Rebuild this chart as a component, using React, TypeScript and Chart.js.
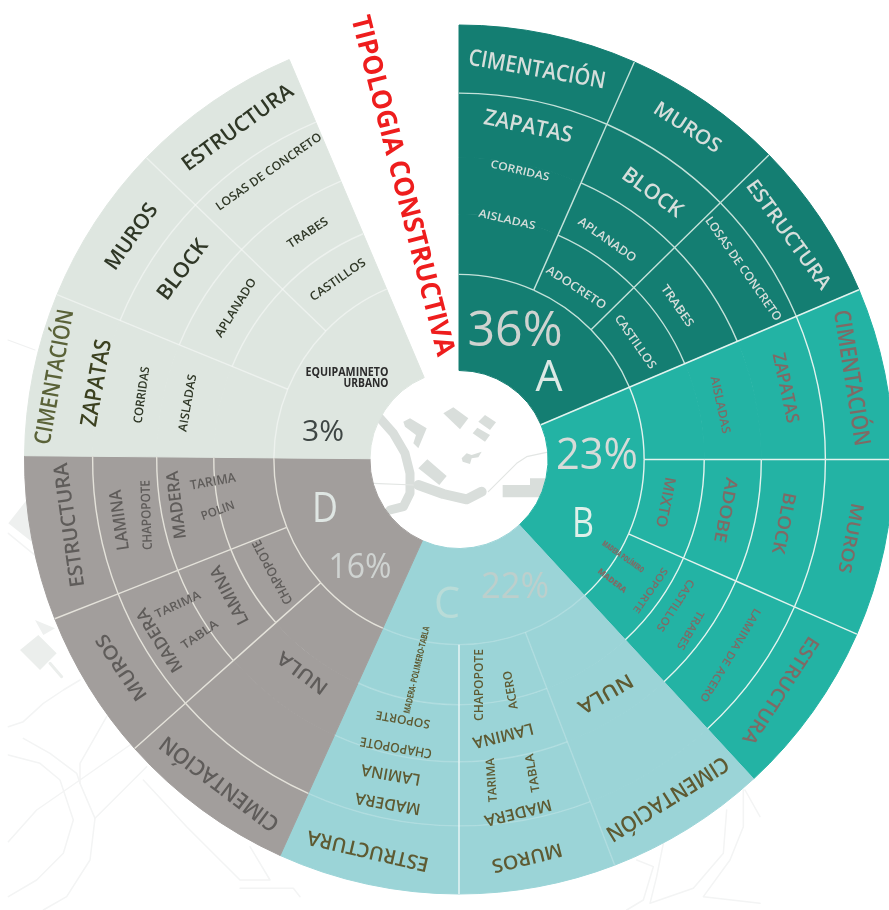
import React, { useEffect, useRef } from "react";
import { Chart, registerables } from "chart.js";

Chart.register(...registerables);

// ---- data: angular share of every wedge (the picture's own drawing, degrees of the wheel)
const wedgesA = [23.8, 21.7, 21.5];
const wedgesB = [23, 23.7, 23.6];
const wedgesC = [21.7, 21, 24.3];
const wedgesD = [24, 20.2, 22];
const wedgesE = [21.8, 21.7, 23];
const gapShare = 23;
const coreValues = [67, 70.3, 67, 66.2, 66.5, gapShare];
const wedgeValues = [...wedgesA, ...wedgesB, ...wedgesC, ...wedgesD, ...wedgesE, gapShare];

const coreLabels = ["A", "B", "C", "D", "E", ""];
const wedgeLabels = [
  "A Cimentación", "A Muros", "A Estructura",
  "B Cimentación", "B Muros", "B Estructura",
  "C Cimentación", "C Muros", "C Estructura",
  "D Cimentación", "D Muros", "D Estructura",
  "E Cimentación", "E Muros", "E Estructura", "",
];
const ringWeights = [68, 64, 57, 60, 96];

const sectorColors = ["#147e72", "#23b3a4", "#9bd4d7", "#a29e9c", "#dee6e0"];
const lineColors = ["#c4e2da", "#e2f3ee", "rgba(255,255,255,0.2)", "#e4e2da", "rgba(255,255,255,0.45)"];

const CA = "#d6dedb", CB = "#7f6a65", CC = "#5e5a32", CD = "#5f5c5a", CE = "#2f3726";

type L = [string, number, number, number, number, number, string, number?];
// text, dx, dy from the wheel's centre, rotation, length, font size, colour, weight
const labelsA: L[] = [
  ["CIMENTACIÓN", 78, -388, 10, 139, 23, CA], ["MUROS", 228, -330, 33, 76, 20, CA],
  ["ESTRUCTURA", 329, -223, 54, 130, 20, CA], ["ZAPATAS", 69, -331, 12, 90, 22, CA],
  ["BLOCK", 193, -265, 36, 70, 21, CA], ["LOSAS DE CONCRETO", 284, -189, 55, 124, 12, CA],
  ["CORRIDAS", 61, -287, 13, 60, 11, CA], ["AISLADAS", 48, -238, 13, 58, 11, CA],
  ["APLANADO", 148, -218, 35, 68, 12, CA], ["ADOCRETO", 117, -170, 33, 69, 12, CA],
  ["TRABES", 218, -152, 55, 48, 12, CA], ["CASTILLOS", 176, -116, 55, 63, 12, CA],
  ["36%", 56, -126, 0, 95, 50, "#cfd3d0", 400], ["A", 90, -80, 0, 27, 44, "#dce9e5", 400],
];
const labelsB: L[] = [
  ["CIMENTACIÓN", 392, -80, 81, 137, 23, CB], ["ZAPATAS", 326, -70, 78, 71, 18, CB],
  ["AISLADAS", 261, -53, 78, 58, 12, CB], ["23%", 138, -1, 0, 82, 43, "#d7dbd8", 400],
  ["B", 124, 67, 0, 22, 42, "#dff0ea", 400], ["MIXTO", 206, 44, 101, 51, 15, CB],
  ["ADOBE", 266, 52, 101, 66, 17, CB], ["BLOCK", 324, 65, 101, 62, 18, CB],
  ["MUROS", 391, 80, 101, 71, 18, CB], ["ESTRUCTURA", 321, 232, 123, 124, 19, CB],
  ["LAMINA DE ACERO", 271, 197, 121, 107, 11, CB], ["TRABES", 231, 172, 120, 43, 11, CB],
  ["CASTILLOS", 216, 147, 123, 60, 11, CB], ["SOPORTE", 191, 132, 125, 53, 10, CB],
  ["MADERA POLÍMERO", 164, 99, 35, 49, 8, CB, 800], ["MADERA", 153, 123, 38, 34, 8, CB, 800],
];
const labelsC: L[] = [
  ["C", -12, 147, 0, 26, 44, "#b9dcd8", 400], ["22%", 56, 130, 0, 68, 36, "#bdcfcc", 400],
  ["NULA", 146, 235, 150, 60, 20, CC], ["CIMENTACIÓN", 208, 340, 148, 140, 22, CC],
  ["MUROS", 68, 399, 166, 72, 19, CC], ["MADERA", 59, 354, 166, 69, 16, CC],
  ["TARIMA", 33, 322, -94, 44, 12, CC], ["TABLA", 74, 315, -100, 39, 12, CC],
  ["LAMINA", 44, 277, 166, 62, 16, CC], ["CHAPOPOTE", 20, 227, -90, 72, 13, CC],
  ["ACERO", 52, 232, -100, 39, 12, CC], ["ESTRUCTURA", -91, 392, 193, 124, 20, CC],
  ["MADERA", -71, 345, 190, 66, 16, CC], ["LAMINA", -68, 316, 190, 60, 16, CC],
  ["CHAPOPOTE", -63, 289, 190, 73, 13, CC], ["SOPORTE", -56, 261, 190, 55, 12, CC],
  ["MADERA- POLIMERO-TABLA", -42, 212, -77, 89, 9, CC, 700],
];
const labelsD: L[] = [
  ["D", -134, 52, 0, 26, 42, "#dfe6e3", 400], ["16%", -99, 110, 0, 63, 34, "#cfd3d1", 400],
  ["NULA", -156, 214, 217, 58, 19, CD], ["CIMENTACIÓN", -239, 325, 217, 143, 22, CD],
  ["MUROS", -337, 209, 236, 76, 19, CD], ["MADERA", -299, 182, 238, 72, 17, CD],
  ["TARIMA", -281, 147, -25, 49, 12, CD], ["TABLA", -259, 177, -35, 42, 12, CD],
  ["LAMINA", -229, 137, -118, 64, 17, CD], ["CHAPOPOTE", -186, 114, -118, 71, 13, CD],
  ["ESTRUCTURA", -389, 67, -98, 125, 20, CD], ["LAMINA", -339, 62, -98, 61, 17, CD],
  ["CHAPOPOTE", -312, 57, -92, 70, 13, CD], ["MADERA", -282, 47, -97, 68, 17, CD],
  ["TARIMA", -246, 24, -10, 46, 13, CD], ["POLIN", -241, 53, -20, 35, 12, CD],
];
const labelsE: L[] = [
  ["CIMENTACIÓN", -404, -81, -80, 137, 23, "#5a6238"], ["ZAPATAS", -362, -75, -80, 88, 23, "#3c4120"],
  ["CORRIDAS", -317, -63, -82, 57, 12, CE], ["AISLADAS", -271, -55, -80, 58, 12, CE],
  ["MUROS", -327, -221, -55, 76, 21, CE], ["BLOCK", -276, -188, -53, 70, 21, CE],
  ["APLANADO", -223, -150, -58, 67, 12, CE], ["ESTRUCTURA", -221, -330, -36, 132, 21, CE],
  ["LOSAS DE CONCRETO", -190, -286, -35, 126, 12, CE], ["TRABES", -151, -225, -33, 46, 12, CE],
  ["CASTILLOS", -121, -178, -35, 65, 12, CE],
  ["EQUIPAMINETO", -112, -86, 0, 83, 13, "#2b2b2b", 700], ["URBANO", -93, -75, 0, 45, 13, "#2b2b2b", 700],
  ["3%", -136, -26, 0, 42, 30, "#3e4644", 500],
];
const title = "TIPOLOGIA CONSTRUCTIVA";

const poly = (c: CanvasRenderingContext2D, pts: number[][], fill: string | null, stroke?: string, w = 1.5) => {
  c.beginPath();
  pts.forEach((p, i) => (i ? c.lineTo(p[0], p[1]) : c.moveTo(p[0], p[1])));
  if (fill) { c.closePath(); c.fillStyle = fill; c.fill(); }
  if (stroke) { c.strokeStyle = stroke; c.lineWidth = w; c.lineJoin = "round"; c.stroke(); }
};
const hubPt = (p: number[]) => [350 + p[0] / 3, 370 + p[1] / 3];
const z8 = (p: number[]) => [p[0] / 3, 500 + p[1] / 3];
const z9 = (p: number[]) => [500 + p[0] / 3, 760 + p[1] / 3];

const backdrop = {
  id: "backdrop",
  beforeDatasetsDraw(chart: any) {
    const c: CanvasRenderingContext2D = chart.ctx;
    c.save();
    const g = "#d9dedb";
    [
      [[280, 130], [310, 112], [355, 145], [330, 178]],
      [[385, 155], [405, 135], [438, 157], [420, 180]],
      [[368, 190], [382, 173], [420, 195], [405, 215]],
      [[335, 265], [350, 250], [365, 255], [395, 245], [385, 262], [365, 265], [360, 282], [338, 275]],
      [[160, 155], [180, 145], [230, 175], [205, 235], [190, 220], [198, 195], [165, 170]],
      [[205, 295], [232, 268], [290, 318], [268, 345]],
      [[458, 345], [540, 345], [540, 325], [600, 325], [600, 382], [458, 382]],
    ].forEach((s) => poly(c, s.map(hubPt), g));
    c.lineCap = "round";
    poly(c, [[90, 145], [130, 190], [165, 250], [180, 310], [180, 370], [160, 410], [120, 420]].map(hubPt), null, g, 9);
    poly(c, [[205, 345], [280, 372], [350, 388], [395, 365]].map(hubPt), null, g, 10);
    poly(c, [[70, 340], [190, 345]].map(hubPt), null, "#e3e6e4", 1.2);
    poly(c, [[415, 365], [500, 280], [530, 260], [600, 245]].map(hubPt), null, "#e3e6e4", 1.2);
    const bg = "#f3f4f4";
    poly(c, [[25, 70], [80, 0], [95, 125]].map(z8), "#eef0ef");
    poly(c, [[60, 450], [115, 405], [170, 460], [120, 510]].map(z8), "#ebeeec");
    poly(c, [[105, 360], [165, 385], [130, 405]].map(z8), "#eef0ef");
    poly(c, [[150, 490], [185, 530]].map(z8), null, "#ebeeec", 3);
    [
      [[25, 680], [70, 665], [130, 610], [190, 570], [240, 540]],
      [[70, 715], [150, 760], [230, 820], [240, 850]],
      [[25, 765], [120, 790], [180, 840], [220, 960], [190, 1060], [110, 1140], [25, 1190]],
      [[25, 1025], [110, 930], [240, 840], [390, 735]],
      [[240, 850], [285, 955], [440, 800]],
      [[320, 650], [240, 790], [240, 850]],
      [[285, 955], [270, 1080], [200, 1190], [130, 1230]],
      [[430, 840], [560, 980], [720, 1140], [810, 1140], [750, 1040]],
      [[720, 1165], [880, 1165], [900, 1190]],
      [[25, 100], [110, 170]],
    ].forEach((s) => poly(c, s.map(z8), null, bg));
    [
      [[490, 250], [470, 350], [450, 430], [580, 385], [670, 280], [680, 150]],
      [[730, 90], [730, 200], [690, 300], [610, 410], [780, 430]],
      [[735, 90], [780, 170]],
      [[410, 300], [460, 320], [430, 420], [380, 450]],
    ].forEach((s) => poly(c, s.map(z9), null, "#f3f4f4"));
    poly(c, [[8, 340], [35, 350]], null, "#f0f1f1", 1.2);
    c.restore();
  },
};

const noRing = new Set(["0:6", "0:12", "1:0", "2:0", "1:3", "2:3", "1:6", "2:6", "1:9", "2:9", "1:12", "2:12"]);

const overlay = {
  id: "overlay",
  afterDatasetsDraw(chart: any) {
    const c: CanvasRenderingContext2D = chart.ctx;
    const first = chart.getDatasetMeta(0).data[0];
    const cx = first.x, cy = first.y;
    c.save();
    c.lineCap = "butt";
    // ring and wedge separators, read from the arcs themselves
    for (let ring = 0; ring < 4; ring++) {
      chart.getDatasetMeta(ring).data.forEach((arc: any, i: number) => {
        if (i >= 15) return;
        const s = Math.floor(i / 3);
        c.strokeStyle = lineColors[s];
        c.lineWidth = 1.4;
        if (!noRing.has(ring + ":" + i)) {
          c.beginPath();
          c.arc(cx, cy, arc.innerRadius, arc.startAngle, arc.endAngle);
          c.stroke();
        }
        if (i % 3 !== 0) {
          const strong = i === 8;
          c.lineWidth = strong ? 1.6 : 1.4;
          c.strokeStyle = strong ? "rgba(255,255,255,0.7)" : lineColors[s];
          c.beginPath();
          c.moveTo(cx + Math.cos(arc.startAngle) * arc.innerRadius, cy + Math.sin(arc.startAngle) * arc.innerRadius);
          c.lineTo(cx + Math.cos(arc.startAngle) * arc.outerRadius, cy + Math.sin(arc.startAngle) * arc.outerRadius);
          c.stroke();
        }
      });
    }
    // the one bright border between two sectors (A / B)
    const ab = chart.getDatasetMeta(4).data[1];
    c.strokeStyle = lineColors[1];
    c.lineWidth = 1.5;
    c.beginPath();
    c.moveTo(cx + Math.cos(ab.startAngle) * ab.innerRadius, cy + Math.sin(ab.startAngle) * ab.innerRadius);
    c.lineTo(cx + Math.cos(ab.startAngle) * first.outerRadius, cy + Math.sin(ab.startAngle) * first.outerRadius);
    c.stroke();
    // labels
    c.textAlign = "center";
    c.textBaseline = "middle";
    const draw = (l: L) => {
      const [t, dx, dy, rot, len, size, col, w] = l;
      c.save();
      c.translate(cx + dx, cy - 1.5 + dy);
      c.rotate((rot * Math.PI) / 180);
      c.font = `${w || 600} ${size}px "Open Sans"`;
      const m = c.measureText(t).width;
      c.scale(len / m, 1);
      c.fillStyle = col;
      c.fillText(t, 0, 0);
      c.restore();
    };
    [...labelsA, ...labelsB, ...labelsC, ...labelsD, ...labelsE].forEach(draw);
    draw([title, -57, -272, 75.7, 350, 27, "#ee1d1d", 700]);
    c.restore();
  },
};

export default function App() {
  const ref = useRef<HTMLCanvasElement>(null);
  useEffect(() => {
    document.body.style.margin = "0";
    const wedgeBg = wedgeValues.map((_, i) => (i < 15 ? sectorColors[Math.floor(i / 3)] : "rgba(0,0,0,0)"));
    const coreBg = coreValues.map((_, i) => (i < 5 ? sectorColors[i] : "rgba(0,0,0,0)"));
    const ring = (w: number) => ({
      data: wedgeValues,
      backgroundColor: wedgeBg,
      borderColor: wedgeBg,
      borderWidth: 1,
      weight: w,
    });
    const chart = new Chart(ref.current!, {
      type: "doughnut",
      data: {
        labels: wedgeLabels,
        datasets: [
          ring(ringWeights[0]),
          ring(ringWeights[1]),
          ring(ringWeights[2]),
          ring(ringWeights[3]),
          { data: coreValues, backgroundColor: coreBg, borderColor: coreBg, borderWidth: 1, weight: ringWeights[4], labels: coreLabels } as any,
        ],
      },
      options: {
        responsive: false,
        animation: false,
        cutout: 89,
        layout: { padding: 24 },
        plugins: { legend: { display: false }, tooltip: { enabled: false } },
      },
      plugins: [backdrop, overlay],
    });
    return () => chart.destroy();
  }, []);
  return (
    <div style={{ position: "fixed", left: 0, top: 0, width: 889, height: 910, overflow: "hidden", background: "#fff" }}>
      <canvas ref={ref} width={918} height={919} style={{ display: "block" }} />
    </div>
  );
}
